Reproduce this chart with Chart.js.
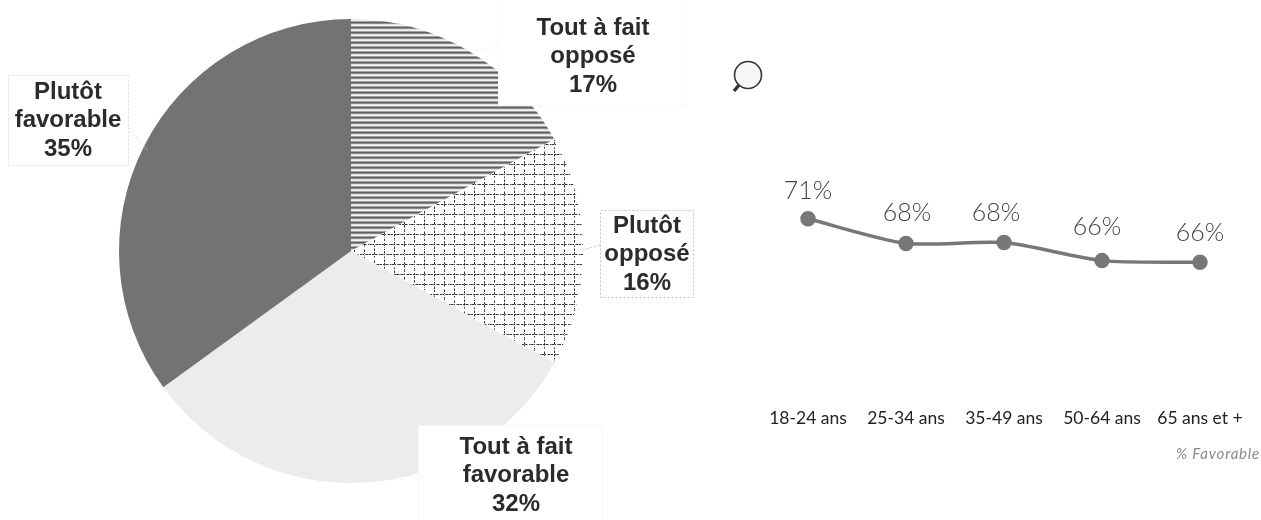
<!DOCTYPE html>
<html lang="fr">
<head>
<meta charset="utf-8">
<title>Favorable / opposé</title>
<script src="https://cdn.jsdelivr.net/npm/chart.js@4/dist/chart.umd.min.js"></script>
<style>
  html, body { margin: 0; padding: 0; background: #fff; overflow: hidden; }
  #page { position: relative; width: 1261px; height: 520px; }
  canvas { position: absolute; }
  #pie { left: 0; top: 0; }
  #line { left: 700px; top: 0; }
  #loupe { position: absolute; left: 728px; top: 56px; }
  #note { position: absolute; right: 1px; top: 444px; font: italic 15px Lato, sans-serif; letter-spacing: 0.8px; color: #8a8a8a; }
</style>
</head>
<body>
<div id="page">
  <canvas id="pie" width="702" height="520"></canvas>
  <canvas id="line" width="561" height="520"></canvas>
  <svg id="loupe" width="40" height="40" viewBox="0 0 40 40">
    <circle cx="20" cy="19" r="13.5" fill="#f6f6f6" stroke="#333" stroke-width="1.6"/>
    <line x1="11" y1="29" x2="6" y2="35" stroke="#333" stroke-width="3.5"/>
  </svg>
  <div id="note">% Favorable</div>
</div>
<script>
// valeurs
const pieNames = ['Tout à fait opposé', 'Plutôt opposé', 'Tout à fait favorable', 'Plutôt favorable'];
const pieValues = [17, 16, 32, 35];
const ageLabels = ['18-24 ans', '25-34 ans', '35-49 ans', '50-64 ans', '65 ans et +'];
const favorableValues = [71, 68, 68.1, 65.9, 65.7];

// hachures
const makeStripes = () => {
    const c = document.createElement('canvas');
    c.width = 8;
    c.height = 5;
    const g = c.getContext('2d');
    ['#f4f4f4', '#a0a0a0', '#606060', '#8c8c8c', '#e0e0e0'].forEach((col, i) => {
        g.fillStyle = col;
        g.fillRect(0, i, 8, 1);
    });
    return g.createPattern(c, 'repeat');
};

const makeGrid = () => {
    const c = document.createElement('canvas');
    c.width = 40;
    c.height = 40;
    const g = c.getContext('2d');
    g.fillStyle = '#ffffff';
    g.fillRect(0, 0, 40, 40);
    for (let k = 0; k < 4; k++) {
        const pos = 4 + k * 10;
        for (let i = 0; i < 40; i++) {
            // traits casses, un peu irreguliers comme sur le scan
            if ((i + k * 3) % 7 === 0) continue;
            g.fillStyle = (i + k) % 3 === 0 ? '#999999' : '#333333';
            g.fillRect(i, pos, 1, 1);
            if ((i + k * 5) % 4 !== 0) g.fillRect(pos, i, 1, 1);
        }
    }
    return g.createPattern(c, 'repeat');
};

const pieBoxes = [
    { lines: ['Tout à fait', 'opposé', '17%'], x: 498, y: -2, w: 187, h: 107, cx: 593, ty: 28, border: '#f0f0f0', lead: [498, 46, 474, 52] },
    { lines: ['Plutôt', 'opposé', '16%'], x: 600, y: 210, w: 93, h: 87, cx: 647, ty: 226, border: '#c4c4c4', lead: [600, 245, 582, 250] },
    { lines: ['Tout à fait', 'favorable', '32%'], x: 418, y: 425, w: 184, h: 97, cx: 516, ty: 447, border: '#ececec', lead: [418, 462, 398, 482] },
    { lines: ['Plutôt', 'favorable', '35%'], x: 8, y: 75, w: 120, h: 90, cx: 68, ty: 92, border: '#dddddd', lead: [128, 128, 147, 150] }
];

const boxLabels = {
    id: 'boxLabels',
    afterDatasetsDraw(chart) {
        const ctx = chart.ctx;
        ctx.save();
        ctx.textAlign = 'center';
        ctx.textBaseline = 'middle';
        ctx.font = 'bold 24px "Liberation Sans", Arial, sans-serif';
        pieBoxes.forEach(b => {
            ctx.fillStyle = '#ffffff';
            ctx.fillRect(b.x, b.y, b.w, b.h);
            ctx.strokeStyle = b.border;
            ctx.lineWidth = 1;
            ctx.setLineDash([2, 2]);
            ctx.strokeRect(b.x + 0.5, b.y + 0.5, b.w, b.h);
            ctx.beginPath();
            ctx.moveTo(b.lead[0], b.lead[1]);
            ctx.lineTo(b.lead[2], b.lead[3]);
            ctx.stroke();
            ctx.setLineDash([]);
            ctx.fillStyle = '#2b2b2b';
            b.lines.forEach((t, i) => ctx.fillText(t, b.cx, b.ty + i * 28.5));
        });
        ctx.restore();
    }
};

new Chart(document.getElementById('pie'), {
    type: 'pie',
    data: {
        labels: pieNames,
        datasets: [{
            data: pieValues,
            backgroundColor: [makeStripes(), makeGrid(), '#ececec', '#737373'],
            borderWidth: 0,
            radius: 232
        }]
    },
    options: {
        responsive: false,
        animation: false,
        layout: { padding: { top: 0, bottom: 18, left: 0, right: 0 } },
        plugins: { legend: { display: false }, tooltip: { enabled: false } }
    },
    plugins: [boxLabels]
});

// decalage des pourcentages par rapport au point
const labelOffsets = [[0, -28], [1, -30], [-8, -30], [-5, -34], [0, -29]];

const pointLabels = {
    id: 'pointLabels',
    afterDatasetsDraw(chart) {
        const ctx = chart.ctx;
        const pts = chart.getDatasetMeta(0).data;
        ctx.save();
        ctx.textAlign = 'center';
        ctx.textBaseline = 'middle';
        ctx.font = '300 25px Lato, sans-serif';
        ctx.fillStyle = '#444444';
        pts.forEach((p, i) => {
            ctx.fillText(Math.round(favorableValues[i]) + '%', p.x + labelOffsets[i][0], p.y + labelOffsets[i][1]);
        });
        ctx.restore();
    }
};

new Chart(document.getElementById('line'), {
    type: 'line',
    data: {
        labels: ageLabels,
        datasets: [{
            data: favorableValues,
            borderColor: '#777777',
            borderWidth: 3.5,
            backgroundColor: '#777777',
            pointRadius: 6,
            tension: 0.25
        }]
    },
    options: {
        responsive: false,
        animation: false,
        layout: { padding: { top: 145, bottom: 82, left: 108, right: 61 } },
        scales: {
            x: {
                offset: false,
                grid: { display: false },
                border: { display: false },
                ticks: { padding: 9, maxRotation: 0, autoSkip: false, color: '#222222', font: { family: 'Lato, sans-serif', size: 17.5 } }
            },
            y: { display: false, min: 50, max: 80 }
        },
        plugins: { legend: { display: false }, tooltip: { enabled: false } }
    },
    plugins: [pointLabels]
});
</script>
</body>
</html>
